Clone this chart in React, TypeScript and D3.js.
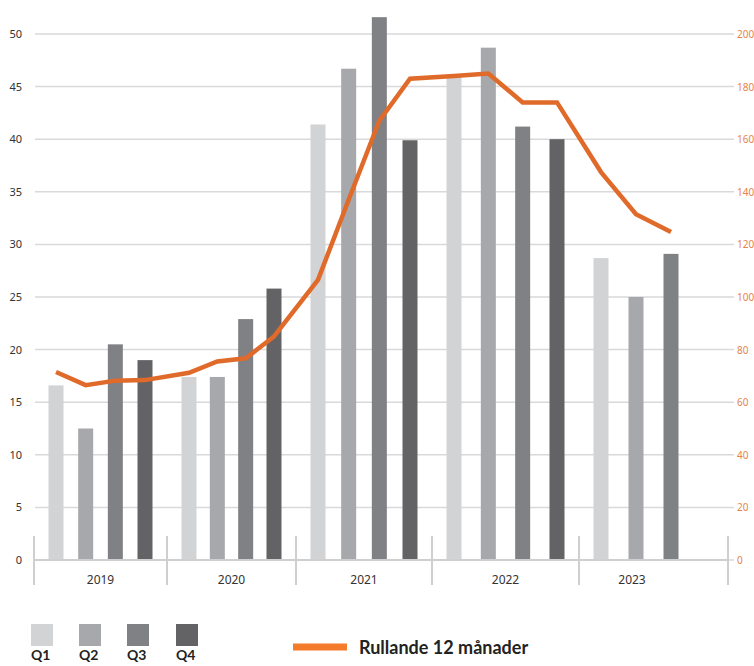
import React from "react";
import * as d3 from "d3";

const years = ["2019", "2020", "2021", "2022", "2023"];
const quarters = ["Q1", "Q2", "Q3", "Q4"];
const quarterColors = ["#d2d3d5", "#a7a8ab", "#808184", "#636365"];
// bar values per year [Q1, Q2, Q3, Q4]
const barValues: number[][] = [
  [16.6, 12.5, 20.5, 19.0],
  [17.4, 17.4, 22.9, 25.8],
  [41.4, 46.7, 51.6, 39.9],
  [45.9, 48.7, 41.2, 40.0],
  [28.7, 25.0, 29.1],
];
// rolling 12 months per quarter
const rollingValues: number[][] = [
  [71.5, 66.5, 68.2, 68.4],
  [71.2, 75.5, 76.7, 85.0],
  [106.5, 137.0, 167.0, 183.0],
  [184.0, 185.0, 174.0, 174.0],
  [147.5, 131.5, 124.7],
];
const leftTicks = [0, 5, 10, 15, 20, 25, 30, 35, 40, 45, 50];
const rightTicks = [0, 20, 40, 60, 80, 100, 120, 140, 160, 180, 200];
const lineLabel = "Rullande 12 månader";

export default function App() {
  const W = 754, H = 666;
  const x0 = 34, x1 = 728;
  const yTop = 34, yBot = 560;
  const yL = d3.scaleLinear().domain([0, 50]).range([yBot, yTop]);
  const yR = d3.scaleLinear().domain([0, 200]).range([yBot, yTop]);
  // year boundaries (piecewise linear scale over year index)
  const xYear = d3
    .scaleLinear()
    .domain([0, 1, 2, 3, 4, 5])
    .range([x0, 167, 296, 432, 579, x1]);
  const barW = 15;
  const qCenter = (yi: number, qi: number) => {
    const p = d3
      .scalePoint<string>()
      .domain(quarters)
      .range([xYear(yi) + 22, xYear(yi + 1) - 22]);
    return p(quarters[qi]) as number;
  };

  const linePts: [number, number][] = [];
  rollingValues.forEach((arr, yi) => {
    arr.forEach((v, qi) => {
      linePts.push([qCenter(yi, qi), yR(v)]);
    });
  });
  const lineGen = d3.line<[number, number]>().x((d) => d[0]).y((d) => d[1]);
  const dividers = d3.range(years.length + 1).map((i) => xYear(i));
  const font = "'Noto Sans', 'Open Sans', sans-serif";

  return (
    <svg
      width={W}
      height={H}
      style={{ position: "absolute", left: 0, top: 0, background: "#fff" }}
      fontFamily={font}
    >
      {/* gridlines */}
      {leftTicks.map((t) => (
        <line key={"g" + t} x1={x0 + 1} x2={x1 + 6} y1={yL(t)} y2={yL(t)} stroke="#d9d9d9" strokeWidth={1.5} />
      ))}
      {/* left labels */}
      {leftTicks.map((t) => (
        <text key={"l" + t} x={22} y={yL(t) + 4} textAnchor="end" fontSize={11} fill="#333">
          {t}
        </text>
      ))}
      {/* right labels */}
      {rightTicks.map((t) => (
        <text key={"r" + t} x={737} y={yR(t) + 4} textAnchor="start" fontSize={10} fill="#e8834a">
          {t}
        </text>
      ))}
      {/* bars */}
      {barValues.map((arr, yi) =>
        arr.map((v, qi) => (
          <rect
            key={`b${yi}-${qi}`}
            x={qCenter(yi, qi) - barW / 2}
            y={yL(v)}
            width={barW}
            height={yBot - yL(v)}
            fill={quarterColors[qi]}
          />
        ))
      )}
      {/* baseline */}
      <line x1={x0} x2={x1} y1={yBot} y2={yBot} stroke="#cfcfcf" strokeWidth={2} />
      {/* dividers */}
      {dividers.map((d, i) => (
        <line key={"d" + i} x1={d} x2={d} y1={536} y2={585} stroke="#cfcfcf" strokeWidth={2} />
      ))}
      {/* year labels, centred under the bars of each year */}
      {years.map((y, i) => (
        <text
          key={"y" + y}
          x={(qCenter(i, 0) + qCenter(i, barValues[i].length - 1)) / 2 - (barValues[i].length < 4 ? 4 : 0)}
          y={584}
          textAnchor="middle"
          fontSize={12}
          fill="#333"
        >
          {y}
        </text>
      ))}
      {/* rolling line */}
      <path
        d={lineGen(linePts) || ""}
        fill="none"
        stroke="#e06a2a"
        strokeWidth={4.5}
        strokeLinejoin="miter"
      />
      {/* legend quarters */}
      {quarters.map((q, i) => {
        const lx = [31, 79, 127, 176][i];
        return (
          <g key={"lg" + q}>
            <rect x={lx} y={624} width={22} height={22} fill={quarterColors[i]} />
            <text x={lx} y={660} fontSize={14} fontWeight="bold" fill="#222" fontFamily="Lato, sans-serif">
              {q}
            </text>
          </g>
        );
      })}
      {/* legend line */}
      <line x1={293} x2={347} y1={647} y2={647} stroke="#f47b2a" strokeWidth={7} />
      <text x={359} y={654} fontSize={18} fontWeight="bold" fill="#222" fontFamily="Lato, sans-serif">
        {lineLabel}
      </text>
    </svg>
  );
}
